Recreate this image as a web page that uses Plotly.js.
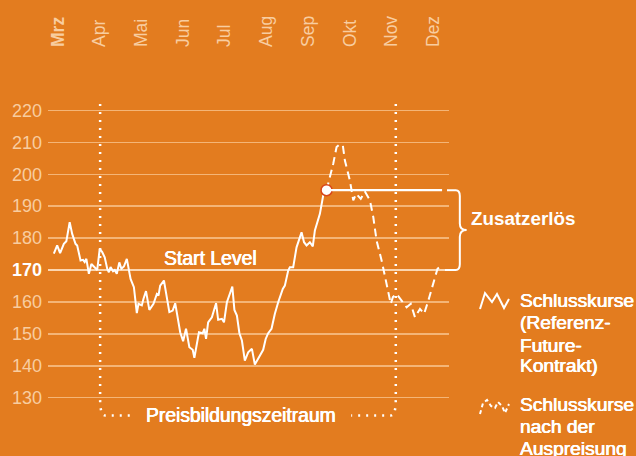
<!DOCTYPE html>
<html>
<head>
<meta charset="utf-8">
<script src="https://cdn.plot.ly/plotly-3.0.1.min.js"></script>
<style>html,body{margin:0;padding:0;background:#E37C1F;}#chart{width:636px;height:456px;}</style>
</head>
<body>
<div id="chart"></div>
<script>
// Month labels (x = month index, Mrz = 0)
const months = ['Mrz','Apr','Mai','Jun','Jul','Aug','Sep','Okt','Nov','Dez'];
const monthVals = [0,1,2,3,4,5,6,7,8,9];
const yTicks = [130,140,150,160,170,180,190,200,210,220];

// Schlusskurse (Referenz-Future-Kontrakt)
const solidX = [-0.10,-0.02,0.05,0.14,0.20,0.28,0.34,0.38,0.42,0.46,0.50,0.54,0.60,0.64,0.68,0.74,0.80,0.88,0.94,1.00,
  1.06,1.12,1.18,1.22,1.26,1.32,1.36,1.41,1.47,1.52,1.58,1.65,1.70,1.74,1.82,1.89,1.93,2.01,2.05,2.11,
  2.19,2.29,2.37,2.41,2.45,2.54,2.67,2.75,2.81,2.93,3.00,3.07,3.15,3.23,3.27,3.38,3.47,3.51,3.55,3.60,
  3.69,3.79,3.84,3.93,3.98,4.05,4.18,4.23,4.29,4.35,4.41,4.48,4.56,4.65,4.72,4.80,4.92,4.98,5.04,5.12,
  5.20,5.28,5.39,5.44,5.52,5.56,5.64,5.72,5.84,5.90,5.96,6.04,6.11,6.16,6.28,6.36,6.44];
const solidY = [175.1,177.7,175.3,178.2,179.0,185.0,181.3,179.8,178.2,177.7,175.6,173.0,173.2,172.5,173.5,168.8,171.9,170.9,170.0,176.6,
  175.6,174.0,170.4,169.3,170.9,169.6,170.0,168.8,172.4,170.4,171.1,173.5,169.8,167.2,164.6,156.5,159.4,158.9,161.0,163.4,
  157.5,159.4,162.5,162.0,165.1,166.7,156.8,157.3,159.6,150.5,147.7,151.6,145.8,145.0,142.5,150.5,150.2,151.6,148.4,153.6,
  155.2,159.6,154.4,154.7,153.6,159.9,164.8,157.5,155.7,150.2,147.9,141.6,144.2,145.3,140.4,142.2,145.0,148.4,150.2,151.6,
  156.3,159.9,164.1,165.1,169.8,170.9,170.9,177.1,181.8,178.7,177.7,178.7,177.4,182.4,187.6,193.4,195.0];

// Schlusskurse nach der Auspreisung
const dashX = [6.44,6.60,6.68,6.75,6.83,6.88,7.00,7.08,7.15,7.26,7.36,7.48,7.56,7.64,7.76,7.84,7.92,7.98,8.03,8.12,
  8.24,8.36,8.46,8.56,8.68,8.78,8.88,9.00,9.10,9.16];
const dashY = [195.0,203.3,208.5,209.3,209.0,204.3,198.0,191.8,193.9,192.3,194.6,191.8,186.6,179.2,173.0,167.7,163.6,159.4,161.5,162.5,
  160.4,158.3,159.4,155.2,157.8,156.3,160.4,165.7,170.4,171.0];

const startLevel = 170;
const endLevel = 195;
const periodStart = 1.01;
const periodEnd = 8.10;

const ORANGE = '#E37C1F';
const PEACH = '#F8CDA0';
const GRID = 'rgba(250,200,150,0.75)';
const FONT = '"Liberation Sans", Arial, sans-serif';
const MEDIUM = '0.35px 0 0 #ffffff, -0.35px 0 0 #ffffff';

const n = solidX.length;
const traces = [
  {x: dashX, y: dashY, mode: 'lines', line: {color: '#fff', width: 2, dash: '8px,5px'}, hoverinfo: 'skip'},
  {x: solidX, y: solidY, mode: 'lines', line: {color: '#fff', width: 2}, hoverinfo: 'skip'},
  {x: [solidX[n-1]], y: [solidY[n-1]], mode: 'markers', marker: {size: 11, color: '#fff', line: {color: '#D8461A', width: 1.5}}, hoverinfo: 'skip'}
];

const dotLine = {color: '#fff', width: 2.5, dash: '2px,6px'};
const shapes = [
  {type: 'line', xref: 'paper', yref: 'y', x0: 0, x1: 1.0, y0: startLevel, y1: startLevel, line: {color: '#fff', width: 2.2}, layer: 'below'},
  {type: 'line', xref: 'x', yref: 'y', x0: solidX[n-1], x1: 9.21, y0: endLevel, y1: endLevel, line: {color: '#fff', width: 2.2}},
  // brace
  {type: 'path', xref: 'paper', yref: 'y', line: {color: '#fff', width: 2},
   path: 'M 0.995,195 L 1.017,195 Q 1.027,195 1.027,193.2 L 1.027,184.6 Q 1.027,182.5 1.044,182.5 Q 1.027,182.5 1.027,180.4 L 1.027,171.8 Q 1.027,170 1.017,170 L 0.99,170'},
  // Preisbildungszeitraum dotted bracket
  {type: 'path', xref: 'x', yref: 'y', line: dotLine,
   path: `M ${periodStart},222 L ${periodStart},129.5 Q ${periodStart},124.4 ${periodStart+0.12},124.4 L 1.78,124.4`},
  {type: 'path', xref: 'x', yref: 'y', line: dotLine,
   path: `M ${periodEnd},222 L ${periodEnd},129.5 Q ${periodEnd},124.4 ${periodEnd-0.12},124.4 L 7.03,124.4`},
  // legend icons
  {type: 'path', xref: 'paper', yref: 'paper', line: {color: '#fff', width: 2},
   path: 'M 1.0773,0.3165 L 1.0898,0.3590 L 1.1072,0.3351 L 1.1197,0.3564 L 1.1372,0.3191 L 1.1496,0.3431'},
  {type: 'path', xref: 'paper', yref: 'paper', line: {color: '#fff', width: 2, dash: '4px,3px'},
   path: 'M 1.0773,0.0372 L 1.0848,0.0665 L 1.0948,0.0745 L 1.1047,0.0585 L 1.1147,0.0532 L 1.1222,0.0691 L 1.1322,0.0585 L 1.1397,0.0399 L 1.1496,0.0638'}
];

const ann = (text, x, y, opts, size, shadow) => Object.assign({text, x, y, showarrow: false,
  font: {family: FONT, size: size || 19, color: '#fff', shadow: shadow || MEDIUM}}, opts || {});
const legendLines1 = ['Schlusskurse','(Referenz-','Future-','Kontrakt)'];
const legendLines2 = ['Schlusskurse','nach der','Auspreisung'];
const legY1 = [0.3404,0.2793,0.2207,0.1649];
const legY2 = [0.0638,0.0027,-0.0532];
const annotations = [
  ann('Start Level', 3.65, 173.9, {xref: 'x', yref: 'y', xanchor: 'center', yanchor: 'middle'}, 19.4),
  ann('<b>Zusatzerlös</b>', 1.05, 186.1, {xref: 'paper', yref: 'y', xanchor: 'left', yanchor: 'middle'}, 18.8, 'none'),
  ann('Preisbildungszeitraum', 4.39, 124.4, {xref: 'x', yref: 'y', xanchor: 'center', yanchor: 'middle'}, 19.3)
];
legendLines1.forEach((t, i) => annotations.push(ann(t, 1.1721, legY1[i], {xref: 'paper', yref: 'paper', xanchor: 'left', yanchor: 'middle'}, 19.2)));
legendLines2.forEach((t, i) => annotations.push(ann(t, 1.1721, legY2[i], {xref: 'paper', yref: 'paper', xanchor: 'left', yanchor: 'middle'}, 19.2)));

const layout = {
  width: 636, height: 456,
  margin: {l: 48, r: 187, t: 52, b: 28, pad: 0},
  paper_bgcolor: ORANGE, plot_bgcolor: ORANGE,
  showlegend: false,
  font: {family: FONT, color: PEACH},
  xaxis: {
    range: [-0.24, 9.376], side: 'top', tickmode: 'array', tickvals: monthVals,
    ticktext: months.map((m, i) => i === 0 ? '<b>' + m + '</b>' : m),
    tickangle: -90, tickfont: {size: 17.5, color: PEACH}, showgrid: false, zeroline: false, showline: false,
    ticks: '', ticklabelstandoff: 4, fixedrange: true
  },
  yaxis: {
    range: [120.5, 238.3], tickmode: 'array', tickvals: yTicks,
    ticktext: yTicks.map(v => v === startLevel ? '<span style="color:#ffffff"><b>' + v + '</b></span>' : String(v)),
    tickfont: {size: 18, color: PEACH}, showgrid: true, gridcolor: GRID, gridwidth: 1.5,
    zeroline: false, showline: false, ticks: '', ticklabelstandoff: 5, fixedrange: true
  },
  shapes, annotations
};

Plotly.newPlot('chart', traces, layout, {displayModeBar: false, staticPlot: true});
</script>
</body>
</html>
